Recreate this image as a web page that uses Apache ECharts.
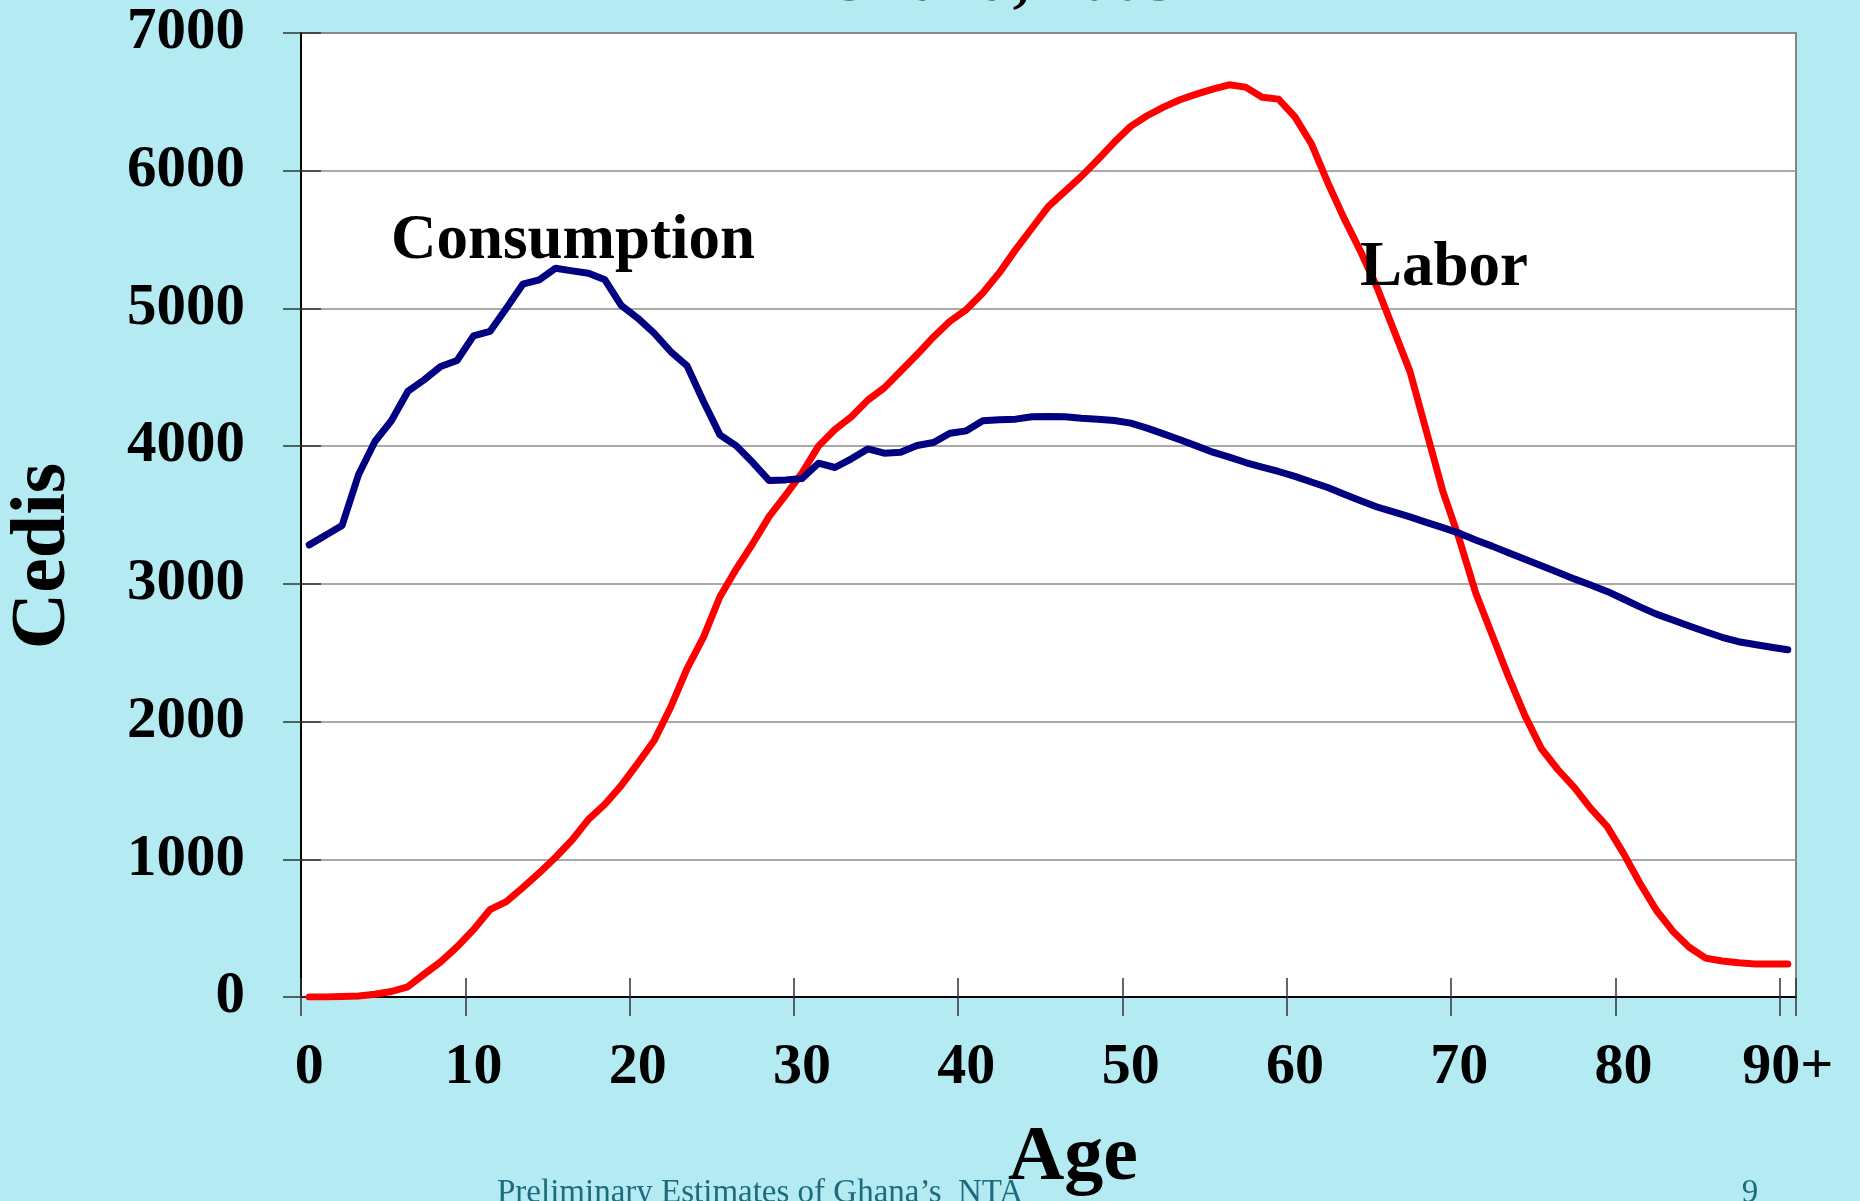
<!DOCTYPE html>
<html lang="en">
<head>
<meta charset="UTF-8">
<title>Labor income and consumption by age, Ghana 2005</title>
<script src="https://cdn.jsdelivr.net/npm/echarts@6/dist/echarts.min.js"></script>
<style>
    html, body { margin: 0; padding: 0; background: #b4eaf2; }
    #main { width: 1860px; height: 1201px; }
</style>
</head>
<body>
<div id="main"></div>
<script type="text/javascript">
    // age groups, 0 .. 90+
    var ages = ['0','1','2','3','4','5','6','7','8','9','10','11','12','13','14','15','16','17','18','19',
        '20','21','22','23','24','25','26','27','28','29','30','31','32','33','34','35','36','37','38','39',
        '40','41','42','43','44','45','46','47','48','49','50','51','52','53','54','55','56','57','58','59',
        '60','61','62','63','64','65','66','67','68','69','70','71','72','73','74','75','76','77','78','79',
        '80','81','82','83','84','85','86','87','88','89','90+'];

    // per capita consumption (Cedis)
    var consumption = [3283, 3353, 3424, 3792, 4034, 4184, 4397, 4482, 4578, 4622,
        4801, 4833, 5002, 5176, 5208, 5292, 5273, 5256, 5208, 5021,
        4929, 4820, 4687, 4583, 4324, 4082, 4002, 3881, 3750, 3755,
        3765, 3876, 3845, 3908, 3980, 3949, 3956, 4005, 4026, 4094,
        4111, 4184, 4191, 4196, 4213, 4215, 4213, 4203, 4196, 4186,
        4167, 4131, 4089, 4046, 4002, 3956, 3920, 3881, 3847, 3816,
        3780, 3740, 3700, 3650, 3603, 3558, 3522, 3486, 3447, 3408,
        3368, 3318, 3274, 3226, 3178, 3131, 3084, 3036, 2992, 2945,
        2890, 2833, 2780, 2737, 2694, 2652, 2612, 2580, 2560, 2540, 2521];

    // per capita labor income (Cedis)
    var labor = [0, 0, 3, 8, 20, 40, 74, 166, 255, 364,
        489, 634, 692, 794, 901, 1015, 1140, 1290, 1400, 1537,
        1697, 1863, 2104, 2384, 2613, 2906, 3109, 3293, 3490, 3645,
        3806, 4000, 4121, 4213, 4334, 4423, 4544, 4665, 4793, 4907,
        4992, 5112, 5258, 5427, 5584, 5741, 5850, 5959, 6080, 6206,
        6322, 6399, 6462, 6515, 6556, 6593, 6624, 6607, 6534, 6520,
        6391, 6196, 5913, 5652, 5413, 5152, 4848, 4543, 4109, 3674,
        3326, 2935, 2630, 2326, 2043, 1804, 1652, 1522, 1370, 1239,
        1043, 826, 630, 478, 361, 282, 261, 248, 239, 239, 239];

    var yMin = 0, yMax = 7000, yStep = 1000;

    var serif = '"Liberation Serif", "Times New Roman", serif';
    var tickStyle = { color: '#333', width: 1.5 };

    var myChart = echarts.init(document.getElementById('main'));
    var option = {
        backgroundColor: '#b4eaf2',
        animation: false,
        grid: {
            left: 301, top: 33, right: 64, bottom: 204,
            show: true,
            backgroundColor: '#ffffff',
            borderColor: '#858585',
            borderWidth: 2
        },
        xAxis: [
            {
                type: 'category',
                data: ages,
                boundaryGap: true,
                position: 'bottom',
                axisLine: { lineStyle: { color: '#000', width: 2 } },
                axisTick: { show: true, interval: 9, length: 19, lineStyle: tickStyle },
                axisLabel: {
                    interval: 9, margin: 42, color: '#000',
                    fontFamily: serif, fontWeight: 'bold', fontSize: 58
                },
                splitLine: { show: false }
            },
            {
                // same axis again, drawing the inner half of the crossing ticks
                type: 'category',
                data: ages,
                boundaryGap: true,
                position: 'bottom',
                axisLine: { show: false },
                axisTick: { show: true, inside: true, interval: 9, length: 19, lineStyle: tickStyle },
                axisLabel: { show: false },
                splitLine: { show: false }
            }
        ],
        yAxis: [
            {
                type: 'value',
                min: yMin, max: yMax, interval: yStep,
                axisLine: { show: true, lineStyle: { color: '#000', width: 2 } },
                axisTick: { show: true, length: 18, lineStyle: tickStyle },
                axisLabel: {
                    margin: 56, color: '#000',
                    fontFamily: serif, fontWeight: 'bold', fontSize: 59,
                    formatter: function (v) { return String(v); }
                },
                splitLine: { lineStyle: { color: '#8c8c8c', width: 1.5 } }
            },
            {
                type: 'value',
                min: yMin, max: yMax, interval: yStep,
                position: 'left',
                axisLine: { show: false },
                axisTick: { show: true, inside: true, length: 20, lineStyle: tickStyle },
                axisLabel: { show: false },
                splitLine: { show: false }
            }
        ],
        graphic: [
            {
                type: 'text', x: 1000, y: -17,
                style: { text: 'Ghana, 2005', fill: '#000', font: 'bold 66px ' + serif, align: 'center', verticalAlign: 'middle' }
            },
            {
                type: 'text', x: 44, y: 556, rotation: Math.PI / 2,
                style: { text: 'Cedis', fill: '#000', font: 'bold 78px ' + serif, align: 'center', verticalAlign: 'middle' }
            },
            {
                type: 'text', x: 1073, y: 1159,
                style: { text: 'Age', fill: '#000', font: 'bold 78px ' + serif, align: 'center', verticalAlign: 'middle' }
            },
            {
                type: 'text', x: 391, y: 242, z: 10,
                style: { text: 'Consumption', fill: '#000', font: 'bold 63px ' + serif, align: 'left', verticalAlign: 'middle' }
            },
            {
                type: 'text', x: 1360, y: 269, z: 10,
                style: { text: 'Labor', fill: '#000', font: 'bold 63px ' + serif, align: 'left', verticalAlign: 'middle' }
            },
            {
                type: 'text', x: 497, y: 1193,
                style: { text: 'Preliminary Estimates of Ghana\u2019s  NTA', fill: '#1d6b7c', font: '33px ' + serif, align: 'left', verticalAlign: 'middle' }
            },
            {
                type: 'text', x: 1750, y: 1193,
                style: { text: '9', fill: '#1d6b7c', font: '33px ' + serif, align: 'center', verticalAlign: 'middle' }
            }
        ],
        series: [
            {
                name: 'Labor',
                type: 'line',
                data: labor,
                symbol: 'none',
                lineStyle: { color: '#ff0000', width: 7, cap: 'round', join: 'round' }
            },
            {
                // bound to the twin axes so they get an extent and draw their ticks
                name: 'Consumption',
                type: 'line',
                xAxisIndex: 1,
                yAxisIndex: 1,
                data: consumption,
                symbol: 'none',
                lineStyle: { color: '#000080', width: 7, cap: 'round', join: 'round' }
            }
        ]
    };
    option && myChart.setOption(option);
</script>
</body>
</html>
